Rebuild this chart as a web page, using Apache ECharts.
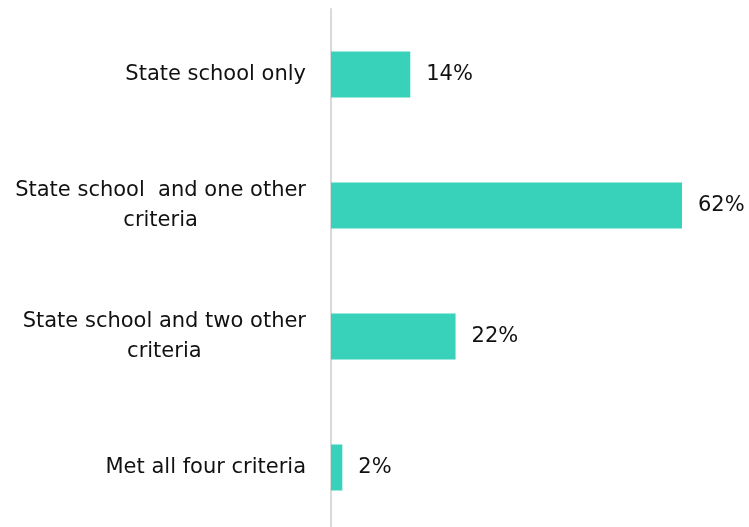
<!DOCTYPE html>
<html>
<head>
<meta charset="utf-8">
<style>
  html, body { margin: 0; padding: 0; background: #fff; overflow: hidden; }
  #chart-container { width: 749px; height: 533px; }
</style>
<script src="https://cdn.jsdelivr.net/npm/echarts@6/dist/echarts.min.js"></script>
</head>
<body>
<div id="chart-container"></div>
<script>
var categories = [
    'State school only',
    'State school  and one other\ncriteria',
    'State school and two other\ncriteria',
    'Met all four criteria'
];
var percentValues = [14, 62, 22, 2];

var dom = document.getElementById('chart-container');
var myChart = echarts.init(dom, null, {
    renderer: 'canvas',
    useDirtyRect: false
});

var font = 'DejaVu Sans';
var option;

option = {
    animation: false,
    grid: {
        left: 331,
        top: 9,
        width: 351,
        bottom: 0,
        containLabel: false
    },
    xAxis: {
        type: 'value',
        min: 0,
        max: 62,
        show: false
    },
    yAxis: {
        type: 'category',
        data: categories,
        inverse: true,
        axisLine: {
            show: true,
            lineStyle: { color: '#d9d9d9', width: 2 }
        },
        axisTick: { show: false },
        axisLabel: {
            margin: 25,
            fontFamily: font,
            fontSize: 21,
            color: '#111',
            formatter: function (value) {
                return value.split('\n').map(function (line) {
                    return '{c|' + line + '}';
                }).join('\n');
            },
            rich: {
                c: {
                    align: 'center',
                    fontFamily: font,
                    fontSize: 21,
                    color: '#111',
                    lineHeight: 30
                }
            }
        }
    },
    series: [
        {
            type: 'bar',
            data: percentValues,
            barWidth: 46,
            itemStyle: { color: '#38d1b9' },
            label: {
                show: true,
                position: 'right',
                distance: 16,
                fontFamily: font,
                fontSize: 21,
                color: '#111',
                formatter: '{c}%'
            }
        }
    ]
};

if (option && typeof option === 'object') {
    myChart.setOption(option);
}

window.addEventListener('resize', myChart.resize);
</script>
</body>
</html>
